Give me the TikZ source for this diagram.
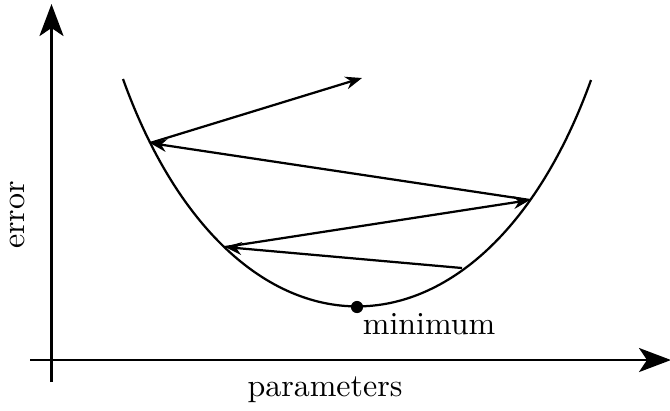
\documentclass[tikz,border=0pt]{standalone}
\usetikzlibrary{arrows.meta}
\begin{document}
\begin{tikzpicture}[x=0.3125pt, y=-0.3125pt,
    axis/.style={line width=0.9pt, -{Stealth[length=10pt, width=7.5pt, inset=2.5pt]}},
    step arrow/.style={line width=0.7pt, -{Stealth[length=5.2pt, width=4pt]}}]
  \useasboundingbox (0,0) rectangle (670,410);
  % axes
  \coordinate (ybot) at (51.5,382);
  \coordinate (ytop) at (51.5,4);
  \coordinate (xleft) at (30,360);
  \coordinate (xright) at (671,360);
  \draw[axis] (ybot) -- (ytop);
  \draw[axis] (xleft) -- (xright);
  \node[rotate=90] (err) at (18,215) {error};
  \node (par) at (325,390) {parameters};
  % error curve
  \draw[line width=0.7pt] (123,79) .. controls (232,382) and (482,382) .. (591,80);
  \coordinate (minpt) at (357,307);
  \fill (minpt) circle (1.9pt);
  \node[below right, inner sep=1pt] (minlbl) at (359,310) {minimum};
  % descent steps
  \coordinate (s0) at (462,268);
  \coordinate (s1) at (225,247);
  \coordinate (s2) at (530,200);
  \coordinate (s3) at (150,143);
  \coordinate (s4) at (362,78);
  \draw[step arrow] (s0) -- (s1);
  \draw[step arrow] (s1) -- (s2);
  \draw[step arrow] (s2) -- (s3);
  \draw[step arrow] (s3) -- (s4);
\end{tikzpicture}
\end{document}
